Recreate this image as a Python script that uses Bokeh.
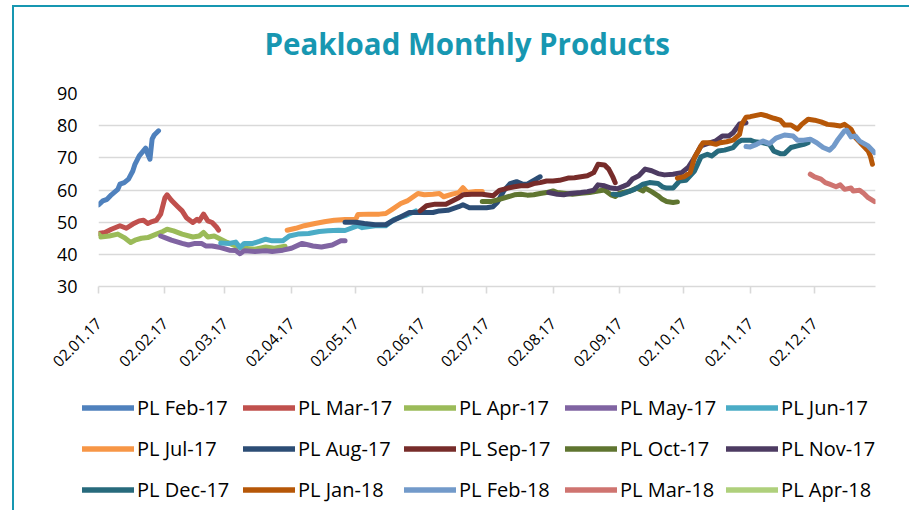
import math
import pandas as pd
from bokeh.plotting import figure
from bokeh.layouts import column
from bokeh.models import Range1d, FixedTicker, Legend, LegendItem, DatetimeTickFormatter, Title
from bokeh.embed import file_html
from bokeh.resources import INLINE

# ---------------- data ----------------
title_text = "Peakload Monthly Products"

tick_dates = ["2017-01-02", "2017-02-02", "2017-03-02", "2017-04-02", "2017-05-02", "2017-06-02",
              "2017-07-02", "2017-08-02", "2017-09-02", "2017-10-02", "2017-11-02", "2017-12-02"]
tick_labels = ["02.01.17", "02.02.17", "02.03.17", "02.04.17", "02.05.17", "02.06.17",
               "02.07.17", "02.08.17", "02.09.17", "02.10.17", "02.11.17", "02.12.17"]
y_ticks = [30, 40, 50, 60, 70, 80, 90]

feb17_dates = ["01-02", "01-04", "01-06", "01-08", "01-11", "01-12", "01-14", "01-16", "01-18",
               "01-19", "01-21", "01-24", "01-25", "01-26", "01-27", "01-28", "01-30"]
feb17_values = [55.4, 56.6, 57.1, 58.5, 60.2, 61.8, 62.3, 63.4, 65.9, 68.0, 70.6, 73.0, 71.1,
                69.6, 75.8, 77.1, 78.4]

mar17_dates = ["01-02", "01-05", "01-08", "01-12", "01-15", "01-18", "01-21", "01-23", "01-25",
               "01-27", "01-29", "01-31", "02-02", "02-03", "02-05", "02-08", "02-10", "02-12",
               "02-15", "02-17", "02-18", "02-20", "02-22", "02-24", "02-26", "02-27"]
mar17_values = [46.5, 46.8, 47.8, 48.9, 48.1, 49.4, 50.4, 50.6, 49.6, 50.2, 50.6, 52.5, 57.6,
                58.5, 56.8, 54.8, 53.5, 51.4, 49.9, 50.9, 50.4, 52.5, 50.4, 49.9, 48.5, 47.5]

apr17_dates = ["01-02", "01-03", "01-07", "01-11", "01-14", "01-17", "01-19", "01-22", "01-25",
               "01-29", "02-01", "02-03", "02-06", "02-10", "02-15", "02-18", "02-20", "02-22",
               "02-25", "02-28", "03-03", "03-07", "03-11", "03-16", "03-21", "03-25", "03-30"]
apr17_values = [46.3, 45.4, 45.7, 46.3, 45.2, 43.7, 44.4, 45.0, 45.2, 46.3, 47.1, 47.8, 47.3,
                46.3, 45.4, 45.7, 46.8, 45.4, 45.7, 44.7, 43.7, 42.6, 41.9, 41.6, 42.3, 41.9, 42.5]

may17_dates = ["01-31", "02-02", "02-05", "02-10", "02-13", "02-16", "02-19", "02-21", "02-24",
               "02-28", "03-04", "03-07", "03-09", "03-11", "03-16", "03-21", "03-24", "03-29",
               "04-02", "04-07", "04-12", "04-16", "04-21", "04-25", "04-27"]
may17_values = [45.7, 45.2, 44.4, 43.4, 42.9, 43.4, 43.4, 42.6, 42.6, 42.1, 41.3, 41.2, 40.2,
                41.1, 40.9, 41.1, 40.9, 41.3, 41.9, 43.4, 42.6, 42.3, 42.9, 44.2, 44.2]

jun17_dates = ["02-28", "03-04", "03-07", "03-09", "03-11", "03-15", "03-18", "03-21", "03-24",
               "03-29", "04-01", "04-05", "04-10", "04-15", "04-19", "04-24", "04-27", "05-03",
               "05-05", "05-11", "05-16", "05-20", "05-25", "05-30"]
jun17_values = [43.5, 43.4, 43.8, 42.1, 43.4, 43.4, 44.0, 44.7, 44.2, 44.2, 45.7, 46.3, 46.5,
                47.1, 47.3, 47.5, 47.4, 48.9, 48.3, 48.9, 48.9, 50.9, 52.0, 53.5]

jul17_dates = ["03-31", "04-04", "04-08", "04-13", "04-18", "04-22", "04-27", "05-02", "05-03",
               "05-08", "05-13", "05-16", "05-19", "05-23", "05-26", "05-31", "06-03", "06-07",
               "06-10", "06-12", "06-16", "06-19", "06-21", "06-23", "06-27", "06-30"]
jul17_values = [47.5, 48.1, 48.9, 49.6, 50.2, 50.6, 50.8, 50.9, 52.4, 52.5, 52.5, 52.7, 54.0,
                55.8, 56.6, 58.9, 58.5, 58.7, 58.9, 57.9, 58.7, 59.2, 60.7, 59.2, 59.5, 59.5]

aug17_dates = ["04-27", "05-02", "05-06", "05-11", "05-16", "05-19", "05-24", "05-27", "06-02",
               "06-07", "06-10", "06-14", "06-19", "06-21", "06-24", "06-28", "07-02", "07-05",
               "07-07", "07-10", "07-13", "07-16", "07-19", "07-21", "07-24", "07-27"]
aug17_values = [50.0, 50.0, 49.6, 49.2, 49.2, 50.4, 52.0, 53.0, 53.0, 53.0, 53.5, 53.7, 54.8,
                55.4, 54.5, 54.5, 54.5, 54.8, 56.1, 59.7, 62.0, 62.6, 61.8, 61.8, 63.0, 64.1]

sep17_dates = ["06-01", "06-04", "06-08", "06-13", "06-16", "06-19", "06-21", "06-25", "06-30",
               "07-05", "07-08", "07-12", "07-15", "07-18", "07-21", "07-24", "07-27", "07-30",
               "08-02", "08-05", "08-09", "08-12", "08-15", "08-18", "08-21", "08-23", "08-26",
               "08-28", "08-30", "08-31"]
sep17_values = [53.5, 55.1, 55.6, 55.6, 56.6, 57.6, 58.5, 58.7, 58.7, 58.2, 59.9, 60.6, 61.0,
                61.3, 61.3, 62.0, 62.3, 62.8, 62.8, 63.0, 63.7, 63.8, 64.1, 64.4, 65.4, 68.0,
                67.8, 66.5, 63.9, 62.3]

oct17_dates = ["06-30", "07-04", "07-08", "07-12", "07-15", "07-18", "07-21", "07-24", "07-27",
               "07-30", "08-02", "08-04", "08-07", "08-11", "08-15", "08-19", "08-23", "08-26",
               "08-29", "08-31", "09-02", "09-07", "09-10", "09-13", "09-14", "09-17", "09-20",
               "09-22", "09-24", "09-27", "09-29"]
oct17_values = [56.4, 56.4, 57.1, 57.9, 58.5, 58.7, 58.4, 58.5, 58.9, 59.2, 59.7, 59.2, 59.0,
                58.7, 59.0, 59.2, 59.7, 60.0, 58.5, 58.0, 59.0, 59.7, 60.6, 59.7, 60.6, 59.5,
                58.2, 57.1, 56.4, 56.1, 56.3]

nov17_dates = ["07-31", "08-04", "08-07", "08-10", "08-15", "08-18", "08-21", "08-23", "08-26",
               "08-29", "09-01", "09-04", "09-06", "09-08", "09-11", "09-14", "09-17", "09-20",
               "09-23", "09-27", "10-01", "10-04", "10-07", "10-10", "10-13", "10-17", "10-20",
               "10-23", "10-25", "10-28", "10-31"]
nov17_values = [59.2, 58.7, 58.5, 58.9, 59.2, 59.5, 59.9, 61.6, 61.3, 60.6, 60.4, 61.2, 61.8,
                63.4, 64.4, 66.5, 66.0, 65.1, 64.7, 64.9, 65.4, 67.0, 70.1, 73.7, 74.4, 75.3,
                76.8, 76.8, 77.8, 80.5, 80.9]

dec17_dates = ["08-30", "09-02", "09-05", "09-09", "09-11", "09-13", "09-16", "09-20", "09-22",
               "09-24", "09-27", "09-30", "10-03", "10-07", "10-10", "10-13", "10-15", "10-18",
               "10-21", "10-25", "10-27", "10-29", "11-02", "11-04", "11-08", "11-11", "11-13",
               "11-16", "11-18", "11-21", "11-24", "11-27", "11-29"]
dec17_values = [58.7, 58.5, 59.2, 60.2, 61.0, 61.8, 62.3, 62.0, 61.0, 60.6, 60.6, 62.8, 63.0,
                65.9, 70.3, 71.1, 70.6, 72.1, 72.4, 73.2, 74.7, 75.5, 75.5, 75.0, 74.7, 74.2,
                72.1, 71.3, 71.3, 73.2, 73.7, 74.2, 74.7]

jan18_dates = ["09-29", "10-02", "10-05", "10-07", "10-10", "10-11", "10-14", "10-17", "10-19",
               "10-22", "10-25", "10-28", "10-29", "10-31", "11-02", "11-07", "11-10", "11-13",
               "11-16", "11-18", "11-21", "11-24", "11-26", "11-29", "12-02", "12-05", "12-08",
               "12-11", "12-14", "12-16", "12-19", "12-21", "12-24", "12-27", "12-28", "12-29"]
jan18_values = [63.7, 64.1, 65.4, 70.1, 73.7, 74.7, 74.7, 74.2, 74.7, 75.0, 75.5, 77.3, 80.4,
                82.6, 82.8, 83.5, 83.0, 82.3, 81.7, 80.2, 80.2, 78.9, 80.4, 82.0, 81.7, 81.2,
                80.4, 80.2, 79.9, 80.4, 78.9, 76.3, 74.2, 72.1, 70.6, 68.0]

feb18_dates = ["10-31", "11-02", "11-05", "11-08", "11-11", "11-14", "11-18", "11-22", "11-24",
               "11-27", "11-30", "12-03", "12-06", "12-09", "12-11", "12-13", "12-16", "12-17",
               "12-19", "12-21", "12-23", "12-27", "12-30"]
feb18_values = [73.5, 73.4, 74.2, 75.2, 74.4, 76.1, 77.1, 76.8, 75.5, 75.5, 75.8, 74.7, 73.2,
                72.4, 73.7, 75.8, 78.4, 78.6, 76.5, 76.8, 75.2, 73.7, 71.6]

mar18_dates = ["11-30", "12-02", "12-05", "12-07", "12-09", "12-12", "12-14", "12-16", "12-19",
               "12-20", "12-23", "12-25", "12-27", "12-30"]
mar18_values = [64.9, 64.1, 63.4, 62.3, 61.8, 61.0, 61.6, 60.2, 60.6, 59.7, 59.9, 58.9, 57.6, 56.4]

# no prices shown for this product in the period
apr18_dates = []
apr18_values = []

series_names = ["PL Feb-17", "PL Mar-17", "PL Apr-17", "PL May-17", "PL Jun-17",
                "PL Jul-17", "PL Aug-17", "PL Sep-17", "PL Oct-17", "PL Nov-17",
                "PL Dec-17", "PL Jan-18", "PL Feb-18", "PL Mar-18", "PL Apr-18"]
series_colors = ["#4f81bd", "#c0504d", "#9bbb59", "#8064a2", "#4bacc6",
                 "#f79646", "#2c4d75", "#772c2a", "#5f7530", "#4d3b62",
                 "#276a7c", "#b65708", "#729aca", "#cf7470", "#afd07c"]
series_dates = [feb17_dates, mar17_dates, apr17_dates, may17_dates, jun17_dates,
                jul17_dates, aug17_dates, sep17_dates, oct17_dates, nov17_dates,
                dec17_dates, jan18_dates, feb18_dates, mar18_dates, apr18_dates]
series_values = [feb17_values, mar17_values, apr17_values, may17_values, jun17_values,
                 jul17_values, aug17_values, sep17_values, oct17_values, nov17_values,
                 dec17_values, jan18_values, feb18_values, mar18_values, apr18_values]

# ---------------- figure ----------------
FONT = "Open Sans"
TEAL = "#1797b1"
LW = 5

p = figure(width=895, height=372, x_axis_type="datetime", output_backend="svg",
           toolbar_location=None, min_border_left=84, min_border_right=34,
           min_border_top=86, min_border_bottom=93,
           x_range=Range1d(pd.Timestamp("2017-01-02"), pd.Timestamp("2017-12-30 10:00")),
           y_range=Range1d(30, 90))

p.title.text = title_text
p.title.align = "left"
p.title.offset = 166
p.title.text_font = FONT
p.title.text_font_size = "29.5px"
p.title.text_font_style = "bold"
p.title.text_color = TEAL
p.title.standoff = 10
# blank spacer between the title and the plotting area
p.add_layout(Title(text=" ", text_font_size="1px", standoff=22), "above")

p.outline_line_color = None
p.background_fill_color = "white"
p.border_fill_color = "white"

p.xgrid.grid_line_color = None
p.ygrid.grid_line_color = "#d9d9d9"
p.ygrid.grid_line_width = 1.6
p.ygrid.ticker = FixedTicker(ticks=y_ticks)

tick_ms = [pd.Timestamp(d).value / 1e6 for d in tick_dates]
p.xaxis.ticker = FixedTicker(ticks=tick_ms)
p.xaxis.formatter = DatetimeTickFormatter(days="%d.%m.%y", months="%d.%m.%y", years="%d.%m.%y")
p.xaxis.major_label_overrides = {t: lab for t, lab in zip(tick_ms, tick_labels)}
p.xaxis.major_label_orientation = math.pi / 4
p.xaxis.axis_line_color = "#d9d9d9"
p.xaxis.axis_line_width = 1.6
p.xaxis.major_tick_line_color = "#d9d9d9"
p.xaxis.major_tick_line_width = 1.6
p.xaxis.major_tick_out = 7
p.xaxis.major_tick_in = 0
p.xaxis.minor_tick_line_color = None
p.xaxis.major_label_text_font = FONT
p.xaxis.major_label_text_font_size = "15.5px"
p.xaxis.major_label_text_color = "#000000"
p.xaxis.major_label_standoff = 27

p.yaxis.ticker = FixedTicker(ticks=y_ticks)
p.yaxis.axis_line_color = None
p.yaxis.major_tick_line_color = None
p.yaxis.minor_tick_line_color = None
p.yaxis.major_label_text_font = FONT
p.yaxis.major_label_text_font_size = "18px"
p.yaxis.major_label_text_color = "#000000"
p.yaxis.major_label_standoff = 15

for name, color, dates, vals in zip(series_names, series_colors, series_dates, series_values):
    xs = [pd.Timestamp("2017-" + d) for d in dates]
    p.line(xs, vals, line_color=color, line_width=LW, line_cap="round", line_join="round")

# legend panel below the chart (same names / colours)
lf = figure(width=895, height=131, output_backend="svg", toolbar_location=None,
            min_border=0, x_axis_location=None, y_axis_location=None,
            x_range=Range1d(0, 1), y_range=Range1d(0, 1))
lf.frame_align = False
lf.grid.visible = False
lf.outline_line_color = None
lf.background_fill_color = "white"
lf.border_fill_color = "white"
items = []
for name, color in zip(series_names, series_colors):
    r = lf.line([float("nan")], [float("nan")], line_color=color, line_width=LW + 0.5,
                line_cap="round")
    items.append(LegendItem(label=name, renderers=[r]))

legend = Legend(items=items, orientation="horizontal", ncols=5, location=(68, 5.5),
                label_text_font=FONT, label_text_font_size="20px", label_text_color="#000000",
                glyph_width=52, glyph_height=31, label_standoff=3, label_width=96,
                spacing=10, padding=0, margin=0,
                border_line_color=None, background_fill_alpha=0)
lf.add_layout(legend, "center")

layout = column(p, lf, spacing=0,
                styles={"border-top": f"2px solid {TEAL}", "border-left": f"2px solid {TEAL}",
                        "margin-top": "5px", "margin-left": "12px"})

open("out.html", "w").write(file_html(layout, INLINE))
